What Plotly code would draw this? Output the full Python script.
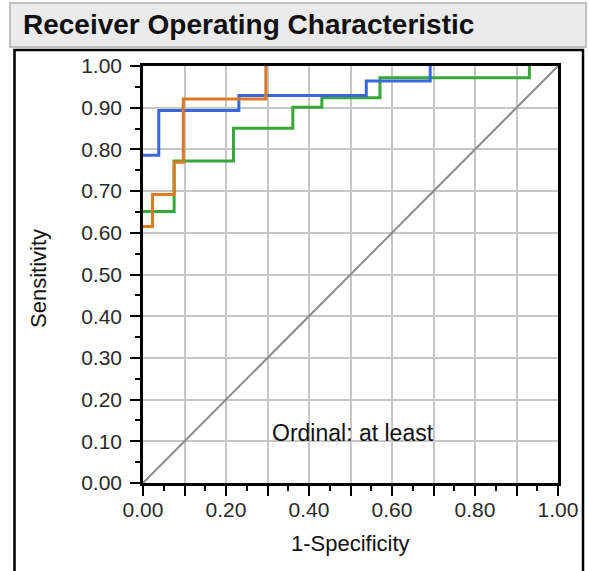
import plotly.graph_objects as go

# ROC step curves: corner points (1-specificity, sensitivity)
blue_fpr = [0.0, 0.038, 0.231, 0.538, 0.692]
blue_tpr = [0.786, 0.893, 0.929, 0.964, 1.0]

orange_fpr = [0.0, 0.023, 0.075, 0.097, 0.296]
orange_tpr = [0.615, 0.692, 0.769, 0.921, 1.0]

green_fpr = [0.0, 0.075, 0.218, 0.361, 0.431, 0.571, 0.931]
green_tpr = [0.651, 0.772, 0.851, 0.901, 0.924, 0.972, 1.0]

ref_fpr = [0.0, 1.0]
ref_tpr = [0.0, 1.0]

major_ticks = [round(i * 0.1, 2) for i in range(11)]
minor_ticks = [round(0.05 + i * 0.1, 2) for i in range(10)]
x_tick_text = [f"{v:.2f}" if i % 2 == 0 else "" for i, v in enumerate(major_ticks)]
y_tick_text = [f"{v:.2f}" for v in major_ticks]

title_text = "Receiver Operating Characteristic"
x_title = "1-Specificity"
y_title = "Sensitivity"
note_text = "Ordinal: at least"

FONT = "Liberation Sans, Arial, sans-serif"

fig = go.Figure()

fig.add_trace(go.Scatter(x=ref_fpr, y=ref_tpr, mode="lines",
                         line=dict(color="#8c8c8c", width=2), hoverinfo="skip"))
fig.add_trace(go.Scatter(x=green_fpr, y=green_tpr, mode="lines", line_shape="hv",
                         line=dict(color="#36a83a", width=3)))
fig.add_trace(go.Scatter(x=blue_fpr, y=blue_tpr, mode="lines", line_shape="hv",
                         line=dict(color="#3a68dc", width=3)))
fig.add_trace(go.Scatter(x=orange_fpr, y=orange_tpr, mode="lines", line_shape="hv",
                         line=dict(color="#dc7a28", width=3)))

axis_common = dict(
    range=[0, 1],
    tickmode="array",
    tickvals=major_ticks,
    ticks="outside",
    ticklen=10,
    tickwidth=1.5,
    tickcolor="black",
    showgrid=True,
    gridcolor="#c6c6c6",
    gridwidth=1.5,
    zeroline=False,
    showline=True,
    linecolor="black",
    linewidth=2.5,
    mirror=True,
    fixedrange=True,
    tickfont=dict(family=FONT, size=21, color="#2a2a2a"),
    minor=dict(tickvals=minor_ticks, ticks="outside", ticklen=5,
               tickwidth=1.5, tickcolor="black", showgrid=False),
)

fig.update_xaxes(**axis_common, ticktext=x_tick_text, ticklabelstandoff=-4)
fig.update_yaxes(**axis_common, ticktext=y_tick_text, ticklabelstandoff=4)

# pixel-to-paper helpers for the 589x571 canvas with plot area 143..558 x 66..483
L, R, T, B = 143, 558, 66, 483
def px(x):
    return (x - L) / (R - L)
def py(y):
    return (B - y) / (B - T)

fig.update_layout(
    width=589,
    height=571,
    margin=dict(l=L, r=589 - R, t=T, b=571 - B),
    paper_bgcolor="white",
    plot_bgcolor="rgba(0,0,0,0)",
    showlegend=False,
    shapes=[
        # header bar
        dict(type="rect", xref="paper", yref="paper", layer="below",
             x0=px(10), x1=px(586), y0=py(47), y1=py(3),
             fillcolor="#ebebeb", line=dict(color="#bfbfbf", width=2)),
        # chart panel
        dict(type="rect", xref="paper", yref="paper", layer="below",
             x0=px(14.5), x1=px(583), y0=py(585), y1=py(50),
             fillcolor="white", line=dict(color="black", width=2.5)),
    ],
    annotations=[
        dict(text=title_text, xref="paper", yref="paper", x=px(21), y=py(25),
             xanchor="left", yanchor="middle", showarrow=False,
             font=dict(family=FONT, size=28, color="#111111", weight="bold")),
        dict(text=x_title, xref="paper", yref="paper", x=px(350), y=py(543),
             xanchor="center", yanchor="middle", showarrow=False,
             font=dict(family=FONT, size=22, color="#111111")),
        dict(text=y_title, xref="paper", yref="paper", x=px(38), y=py(279),
             xanchor="center", yanchor="middle", showarrow=False, textangle=-90,
             font=dict(family=FONT, size=22, color="#111111")),
        dict(text=note_text, xref="x", yref="y", x=0.307, y=0.12,
             xanchor="left", yanchor="middle", showarrow=False,
             font=dict(family=FONT, size=23, color="#111111")),
    ],
)

fig.write_html("out.html")
